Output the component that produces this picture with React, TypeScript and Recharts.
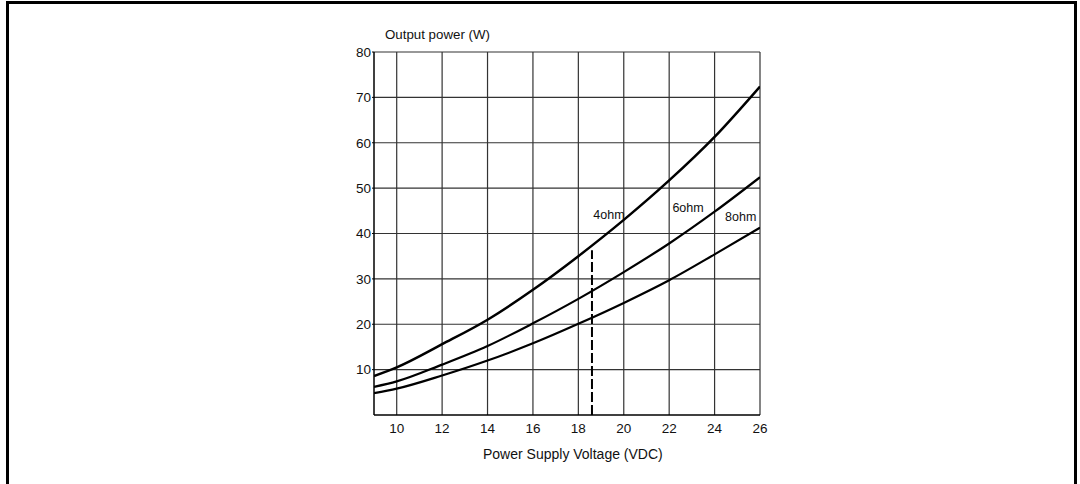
import React from "react";
import {
  LineChart,
  Line,
  XAxis,
  YAxis,
  CartesianGrid,
  ReferenceLine,
  ReferenceDot,
} from "recharts";

// supply voltage (VDC)
const voltage = [9, 10, 12, 14, 16, 18, 20, 22, 24, 26];
// output power (W) per load
const power4ohm = [8.6, 10.5, 15.6, 21, 27.6, 35, 43, 51.7, 61.3, 72.4];
const power6ohm = [6.2, 7.4, 11.1, 15.2, 20.2, 25.6, 31.5, 37.8, 44.8, 52.4];
const power8ohm = [4.8, 5.8, 8.7, 12, 15.8, 20.1, 24.7, 29.7, 35.4, 41.3];

const xTicks = [10, 12, 14, 16, 18, 20, 22, 24, 26];
const yTicks = [10, 20, 30, 40, 50, 60, 70, 80];

// dashed marker from the axis up to the 4ohm curve
const markerV = 18.6;
const markerP = 36.3;

const curveLabels = [
  { name: "4ohm", x: 19.35, y: 44.1 },
  { name: "6ohm", x: 22.83, y: 45.8 },
  { name: "8ohm", x: 25.15, y: 43.8 },
];

const data = voltage.map((v, i) => ({
  v,
  r4: power4ohm[i],
  r6: power6ohm[i],
  r8: power8ohm[i],
}));

const FONT = "'Liberation Sans', Arial, sans-serif";
const tickStyle = { fontSize: 13.5, fill: "#111", fontFamily: FONT };

export default function App() {
  return (
    <div
      style={{
        position: "absolute",
        left: 0,
        top: 0,
        width: 1080,
        height: 484,
        overflow: "hidden",
        background: "#fff",
        fontFamily: FONT,
      }}
    >
      {/* frame */}
      <div
        style={{
          position: "absolute",
          left: 6,
          top: 1,
          width: 1080 - 6 - 3,
          height: 500,
          borderTop: "3px solid #000",
          borderLeft: "3px solid #000",
          borderRight: "3px solid #000",
          boxSizing: "border-box",
        }}
      />

      <div
        style={{
          position: "absolute",
          left: 385,
          top: 27,
          fontSize: 13.3,
          color: "#111",
          whiteSpace: "nowrap",
        }}
      >
        Output power (W)
      </div>

      <div
        style={{
          position: "absolute",
          left: 483,
          top: 446,
          fontSize: 14,
          color: "#111",
          whiteSpace: "nowrap",
        }}
      >
        Power Supply Voltage (VDC)
      </div>

      <div style={{ position: "absolute", left: 0, top: 0 }}>
        <LineChart
          width={1080}
          height={484}
          data={data}
          margin={{ top: 52, right: 320, left: 334, bottom: 39 }}
        >
          <CartesianGrid
            stroke="#333"
            strokeWidth={1.2}
            horizontalValues={yTicks}
            verticalValues={xTicks}
          />
          <XAxis
            dataKey="v"
            type="number"
            domain={[9, 26]}
            ticks={xTicks}
            allowDataOverflow
            axisLine={{ stroke: "#000", strokeWidth: 1.5 }}
            tickLine={false}
            tick={tickStyle}
            tickMargin={2}
            height={30}
          />
          <YAxis
            type="number"
            domain={[0, 80]}
            ticks={yTicks}
            allowDataOverflow
            axisLine={{ stroke: "#000", strokeWidth: 1.5 }}
            tickLine={{ stroke: "#000" }}
            tickSize={2}
            tick={tickStyle}
            tickMargin={1}
            width={40}
          />
          <ReferenceLine
            segment={[
              { x: markerV, y: 0 },
              { x: markerV, y: markerP },
            ]}
            stroke="#000"
            strokeWidth={2}
            strokeDasharray="10 3"
          />
          <Line
            type="monotone"
            dataKey="r4"
            stroke="#000"
            strokeWidth={2.5}
            dot={false}
            isAnimationActive={false}
          />
          <Line
            type="monotone"
            dataKey="r6"
            stroke="#000"
            strokeWidth={2.2}
            dot={false}
            isAnimationActive={false}
          />
          <Line
            type="monotone"
            dataKey="r8"
            stroke="#000"
            strokeWidth={2.2}
            dot={false}
            isAnimationActive={false}
          />
          {curveLabels.map((c) => (
            <ReferenceDot
              key={c.name}
              x={c.x}
              y={c.y}
              r={0}
              fill="none"
              stroke="none"
              label={{
                value: c.name,
                position: "center",
                fontSize: 12.5,
                fill: "#111",
                fontFamily: FONT,
              }}
            />
          ))}
        </LineChart>
      </div>
    </div>
  );
}
